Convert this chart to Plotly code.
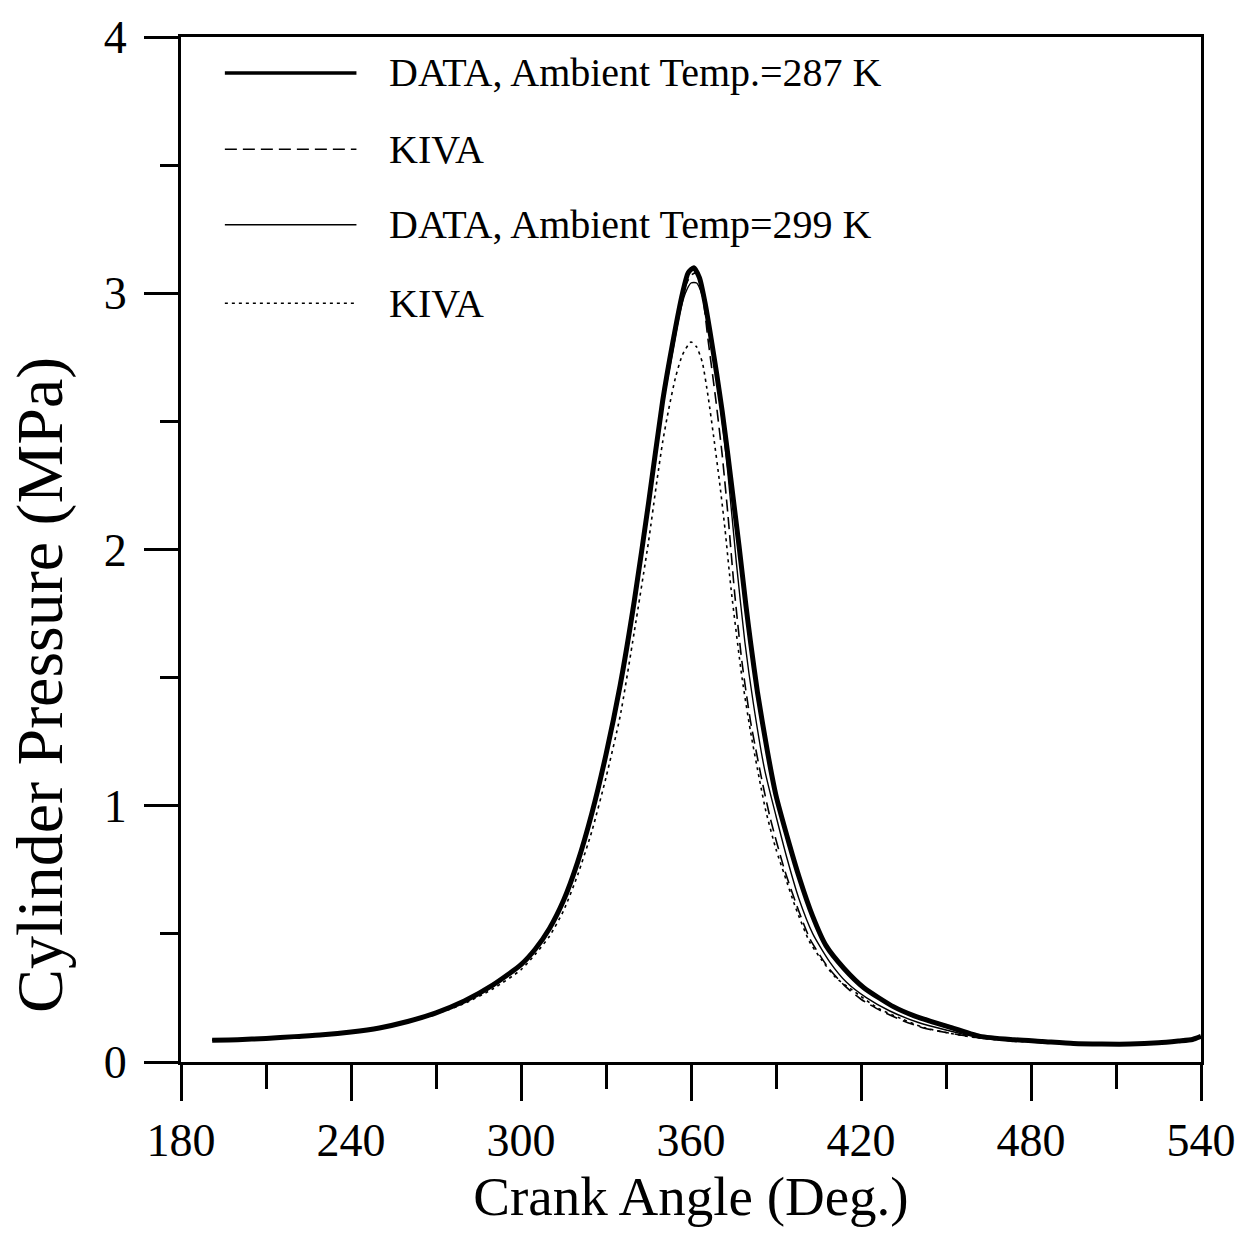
import plotly.graph_objects as go

# ---- data ----
angle_data287 = [191, 200, 210, 220, 230, 240, 250, 260, 270, 280, 290, 300, 305, 310, 315, 320, 325, 330, 335, 340,
                 345, 350, 353.6, 357, 359, 361, 363, 365, 367, 369, 371, 373, 375, 377, 379.4, 381, 383.5, 387, 390,
                 394.7, 398.2, 402.9, 407.6, 414, 421, 431.6, 438.8, 450.4, 462, 474, 484, 495, 505, 515, 525, 532, 537, 540]
p_data287 = [0.085, 0.087, 0.092, 0.099, 0.106, 0.117, 0.133, 0.158, 0.192, 0.238, 0.30, 0.38, 0.44, 0.52, 0.63, 0.78,
             0.97, 1.20, 1.47, 1.80, 2.18, 2.58, 2.81, 3.00, 3.08, 3.10, 3.06, 2.96, 2.83, 2.69, 2.54, 2.37, 2.19, 2.01,
             1.78, 1.64, 1.44, 1.21, 1.04, 0.85, 0.72, 0.57, 0.455, 0.365, 0.29, 0.215, 0.18, 0.139, 0.10, 0.087, 0.08,
             0.072, 0.07, 0.07, 0.075, 0.082, 0.088, 0.10]

angle_kiva287 = [191, 200, 210, 220, 230, 240, 250, 260, 270, 280, 290, 300, 305, 310, 315, 320, 325, 330, 335, 340,
                 345, 350, 354, 357, 360, 362, 364, 366, 368.8, 371, 373, 375.4, 378, 381, 385.4, 388, 393, 398, 402,
                 408, 414, 420, 427, 435, 442, 450, 460, 470, 480, 490]
p_kiva287 = [0.085, 0.087, 0.092, 0.099, 0.106, 0.117, 0.133, 0.157, 0.19, 0.235, 0.295, 0.375, 0.435, 0.515, 0.625,
             0.775, 0.96, 1.19, 1.46, 1.79, 2.16, 2.56, 2.84, 3.00, 3.07, 3.08, 3.00, 2.82, 2.58, 2.37, 2.14, 1.83,
             1.56, 1.33, 1.08, 0.95, 0.75, 0.59, 0.48, 0.375, 0.30, 0.245, 0.20, 0.16, 0.133, 0.115, 0.097, 0.086,
             0.08, 0.076]

angle_data299 = [191, 200, 210, 220, 230, 240, 250, 260, 270, 280, 290, 300, 305, 310, 315, 320, 325, 330, 335, 340,
                 345, 350, 353, 356, 358, 360, 362, 364, 366, 368, 370.5, 373, 376, 379, 382, 386, 390, 394, 398, 403,
                 409, 415, 422, 430, 440, 450, 460, 470, 480, 490, 500, 510, 520, 530, 537, 540]
p_data299 = [0.085, 0.087, 0.092, 0.099, 0.106, 0.117, 0.133, 0.158, 0.192, 0.238, 0.30, 0.38, 0.44, 0.52, 0.63, 0.78,
             0.97, 1.20, 1.47, 1.80, 2.17, 2.56, 2.74, 2.92, 3.00, 3.04, 3.04, 2.99, 2.89, 2.75, 2.55, 2.30, 1.95,
             1.64, 1.40, 1.14, 0.96, 0.79, 0.64, 0.50, 0.39, 0.31, 0.25, 0.20, 0.155, 0.125, 0.10, 0.088, 0.08, 0.074,
             0.07, 0.07, 0.072, 0.08, 0.088, 0.10]

angle_kiva299 = [191, 200, 210, 220, 230, 240, 250, 260, 270, 280, 290, 300, 305, 310, 315, 320, 325, 330, 335, 340,
                 345, 348, 350, 352, 354.5, 357, 360, 362, 364, 366, 368, 370, 372, 374.2, 378, 381, 384.2, 386.4, 390,
                 393, 397, 401.8, 406, 411, 417, 426, 434, 442, 450, 460, 470, 480, 490]
p_kiva299 = [0.085, 0.087, 0.092, 0.098, 0.105, 0.115, 0.13, 0.154, 0.187, 0.228, 0.285, 0.36, 0.42, 0.49, 0.59,
             0.73, 0.90, 1.11, 1.35, 1.68, 2.03, 2.27, 2.42, 2.54, 2.67, 2.76, 2.81, 2.79, 2.73, 2.60, 2.44, 2.27,
             2.08, 1.84, 1.50, 1.29, 1.10, 0.98, 0.83, 0.73, 0.60, 0.47, 0.40, 0.33, 0.28, 0.21, 0.17, 0.135, 0.115,
             0.096, 0.085, 0.078, 0.074]

legend_labels = ["DATA, Ambient Temp.=287 K", "KIVA", "DATA, Ambient Temp=299 K", "KIVA"]
x_ticks = [180, 240, 300, 360, 420, 480, 540]
y_ticks = [0, 1, 2, 3, 4]

FONT = "Liberation Serif"
BLACK = "#000000"

styles = [
    dict(width=5, dash="solid"),
    dict(width=1.6, dash="12px,6px"),
    dict(width=1.4, dash="solid"),
    dict(width=1.6, dash="3px,4px"),
]
series = [
    (angle_data287, p_data287),
    (angle_kiva287, p_kiva287),
    (angle_data299, p_data299),
    (angle_kiva299, p_kiva299),
]

fig = go.Figure()
for (xs, ys), st, name in zip(series, styles, legend_labels):
    fig.add_trace(go.Scatter(
        x=xs, y=ys, mode="lines", name=name, showlegend=False,
        line=dict(color=BLACK, width=st["width"], dash=st["dash"], shape="spline", smoothing=0.6),
    ))

# ---- hand-drawn legend inside the plot (top-left) ----
leg_y = [0.965, 0.8905, 0.8169, 0.7403]
leg_w = [3.5, 1.6, 1.6, 1.6]
for yy, st, lw, label in zip(leg_y, styles, leg_w, legend_labels):
    fig.add_shape(type="line", xref="paper", yref="paper", x0=0.043, x1=0.172, y0=yy, y1=yy,
                  line=dict(color=BLACK, width=lw, dash=st["dash"]))
    fig.add_annotation(xref="paper", yref="paper", x=0.2023, y=yy, xanchor="left", yanchor="middle",
                       text=label, showarrow=False, font=dict(family=FONT, size=40, color=BLACK))

# y-axis title (placed like the reference, lower than centre)
fig.add_annotation(xref="paper", yref="paper", x=-0.138, y=0.368, xanchor="center", yanchor="middle",
                   text="Cylinder Pressure (MPa)", textangle=-90, showarrow=False,
                   font=dict(family=FONT, size=66, color=BLACK))

fig.update_layout(
    width=1248, height=1237,
    margin=dict(l=181, r=44, t=30, b=175),
    paper_bgcolor="white", plot_bgcolor="white",
    font=dict(family=FONT, color=BLACK),
    xaxis=dict(
        range=[180, 540], tickvals=x_ticks, ticktext=[str(v) for v in x_ticks],
        ticks="outside", ticklen=36, tickwidth=3, tickcolor=BLACK,
        minor=dict(dtick=30, tick0=180, ticks="outside", ticklen=24, tickwidth=3, tickcolor=BLACK),
        showline=True, linewidth=3, linecolor=BLACK, mirror=True,
        showgrid=False, zeroline=False,
        tickfont=dict(family=FONT, size=46, color=BLACK),
        ticklabelstandoff=0,
        title=dict(text="Crank Angle (Deg.)", font=dict(family=FONT, size=55, color=BLACK), standoff=4),
    ),
    yaxis=dict(
        range=[0, 4], tickvals=y_ticks, ticktext=[str(v) for v in y_ticks],
        ticks="outside", ticklen=34, tickwidth=3, tickcolor=BLACK,
        minor=dict(dtick=0.5, tick0=0, ticks="outside", ticklen=18, tickwidth=3, tickcolor=BLACK),
        showline=True, linewidth=3, linecolor=BLACK, mirror=True,
        showgrid=False, zeroline=False,
        tickfont=dict(family=FONT, size=46, color=BLACK),
        ticklabelstandoff=8,
    ),
)

fig.write_html("out.html")
